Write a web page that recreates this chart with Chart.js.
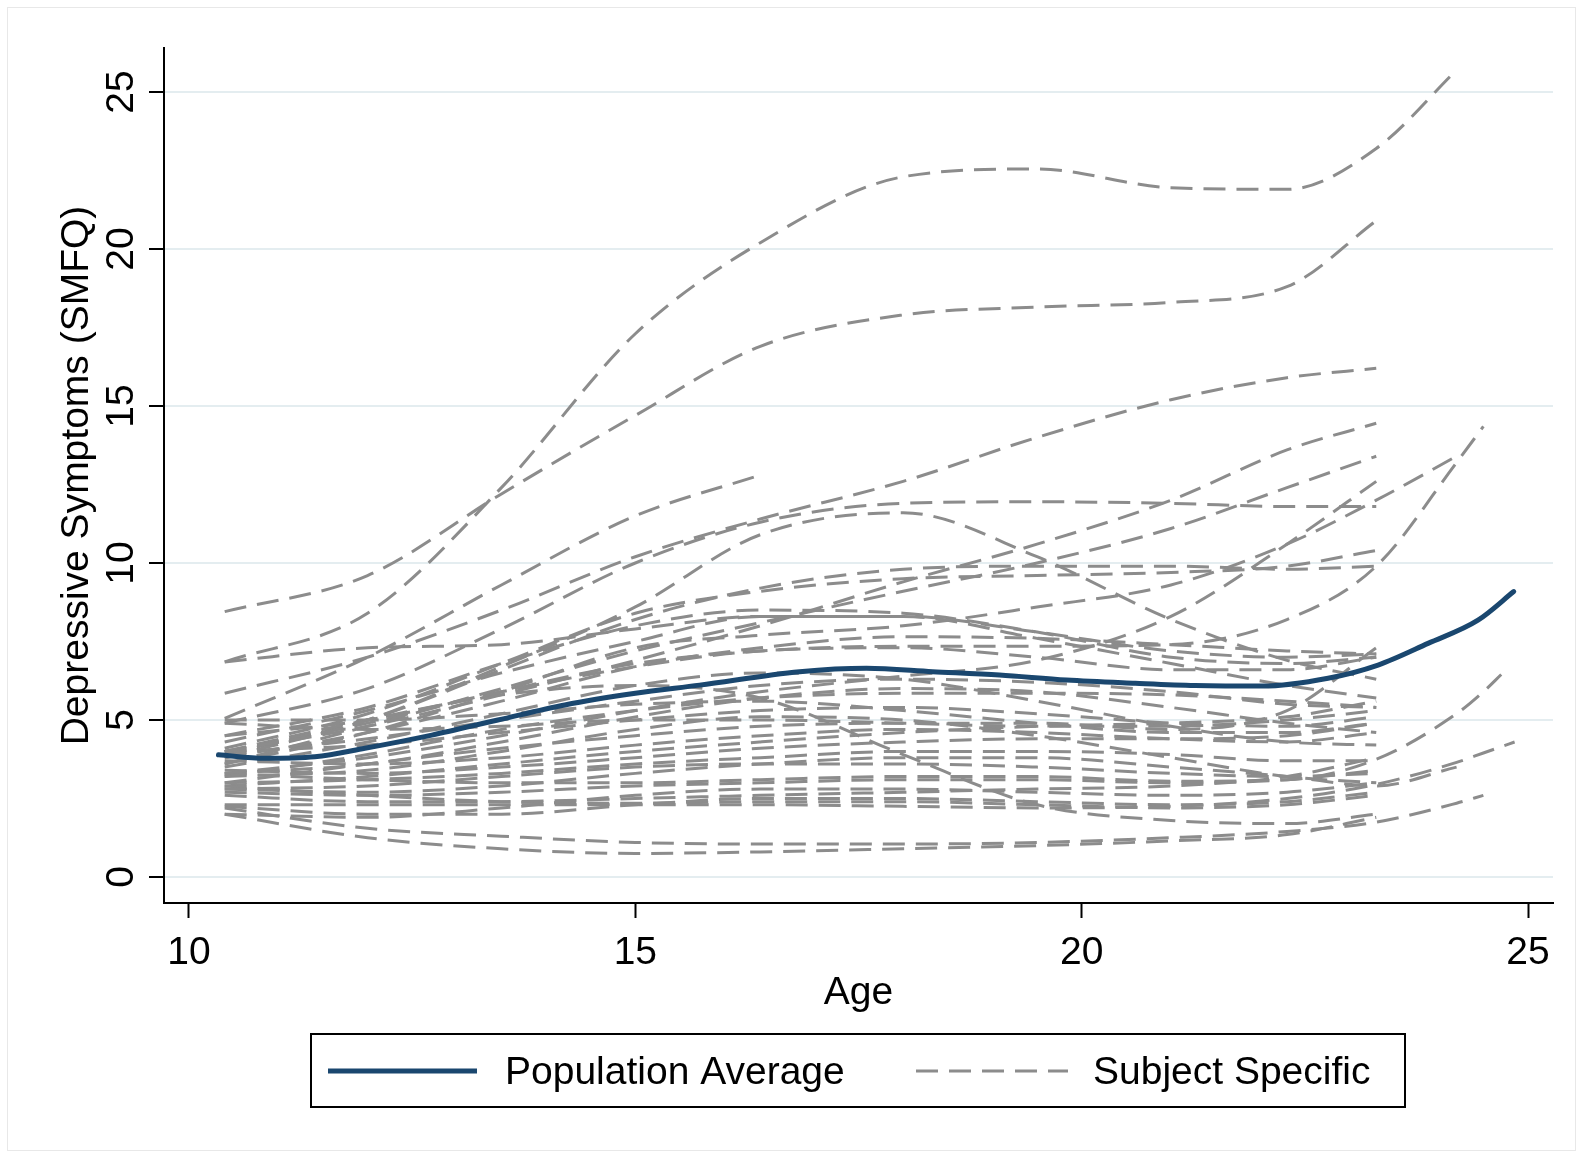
<!DOCTYPE html>
<html>
<head>
<meta charset="utf-8">
<script src="https://cdn.jsdelivr.net/npm/chart.js@4.4.1/dist/chart.umd.min.js"></script>
<style>
html,body{margin:0;padding:0;background:#ffffff;}
#wrap{width:1583px;height:1158px;position:relative;}
</style>
</head>
<body>
<div id="wrap"><canvas id="c" width="1583" height="1158"></canvas></div>
<script>
// ---------- DATA ----------
const xTitle = 'Age';
const yTitle = 'Depressive Symptoms (SMFQ)';
const legendLabels = ['Population Average', 'Subject Specific'];
const xTicks = [10, 15, 20, 25];
const yTicks = [0, 5, 10, 15, 20, 25];

// Population average curve
const popAges   = [10.33, 10.85, 11.41, 11.97, 12.72, 13.46, 14.21, 15.0, 15.72, 16.84, 17.59, 18.33, 19.08, 19.83, 20.6, 21.27, 22.02, 22.76, 23.32, 23.88, 24.44, 24.84];
const popValues = [3.89, 3.78, 3.83, 4.10, 4.52, 5.00, 5.48, 5.85, 6.11, 6.54, 6.65, 6.54, 6.43, 6.27, 6.17, 6.10, 6.08, 6.33, 6.75, 7.44, 8.18, 9.09];

// Subject-specific curves, read at these ages (null = outside the subject's range)
const ages = [10.4, 12, 13.5, 15, 16.4, 18, 19.5, 21, 22.3, 23.3, 24.2, 24.5, 24.7, 24.85];
const n = null;
const s01 = [6.85, 8.4, 12.4, 17.3, 20.2, 22.3, 22.55, 21.95, 21.9, 23.2, 25.7, n, n, n];
const s02 = [8.45, 9.6, 12.2, 14.7, 16.9, 17.9, 18.15, 18.3, 18.8, 20.9, n, n, n, n];
const s03 = [5.05, 7.0, 9.3, 11.5, 12.8, n, n, n, n, n, n, n, n, n];
const s04 = [5.85, 7.0, 8.5, 10.2, 11.4, 12.6, 14.0, 15.2, 15.9, 16.2, n, n, n, n];
const s05 = [4.0, 4.8, 5.8, 6.9, 8.0, 9.4, 10.6, 12.0, 13.6, 14.45, n, n, n, n];
const s06 = [4.9, 6.0, 7.9, 10.0, 11.3, 11.9, 11.95, 11.9, 11.8, 11.8, n, n, n, n];
const s07 = [3.8, 5.0, 6.7, 8.6, 10.9, 11.6, 10.2, 8.2, 6.9, 6.3, n, n, n, n];
const s08 = [3.3, 3.8, 4.5, 5.3, 5.9, 6.4, 6.9, 8.3, 10.6, 12.6, n, n, n, n];
const s09 = [3.6, 4.8, 6.0, 7.2, 8.1, 9.1, 10.0, 11.1, 12.4, 13.4, n, n, n, n];
const s10 = [4.0, 4.9, 5.9, 6.8, 7.2, 7.35, 7.35, 7.4, 8.2, 9.9, 13.2, 14.35, n, n];
const s11 = [3.6, 4.6, 5.9, 7.3, 7.7, 8.0, 8.6, 9.3, 10.6, 12.0, 13.4, n, n, n];
const s12 = [3.0, 3.6, 4.1, 4.5, 4.8, 4.9, 4.9, 4.7, 5.3, 7.3, n, n, n, n];
const s13 = [3.3, 3.1, 3.0, 3.0, 3.1, 3.2, 3.2, 3.05, 3.1, 3.75, 5.2, 5.9, 6.45, n];
const s14 = [2.3, 2.3, 2.3, 2.3, 2.3, 2.25, 2.2, 2.25, 2.5, 2.95, 3.65, 3.95, 4.15, 4.3];
const s15 = [2.2, 1.55, 1.3, 1.1, 1.05, 1.05, 1.1, 1.25, 1.45, 1.75, 2.35, 2.6, n, n];
const s16 = [2.0, 1.25, 0.9, 0.75, 0.8, 0.9, 1.0, 1.15, 1.35, 1.9, n, n, n, n];
const s17 = [4.3, 5.3, 6.5, 7.5, 8.3, 8.3, 7.6, 6.8, 6.1, 5.7, n, n, n, n];
const s18 = [3.8, 4.6, 5.6, 6.7, 7.3, 7.65, 7.6, 7.4, 7.2, 7.1, n, n, n, n];
const s19 = [3.2, 3.9, 4.7, 5.3, 5.7, 5.85, 5.85, 5.8, 5.6, 5.4, n, n, n, n];
const s20 = [4.0, 5.0, 5.8, 6.1, 5.7, 3.9, 2.3, 1.8, 1.7, 2.0, n, n, n, n];
const s21 = [5.0, 5.0, 5.2, 5.5, 5.6, 5.3, 4.9, 4.6, 4.6, 4.9, n, n, n, n];
const s22 = [4.9, 4.7, 4.8, 5.0, 5.0, 4.9, 4.8, 4.8, 5.0, 5.3, n, n, n, n];
const s23 = [4.0, 4.2, 4.6, 5.0, 5.3, 5.4, 5.2, 4.9, 4.8, 5.1, n, n, n, n];
const s24 = [3.7, 3.6, 3.8, 4.2, 4.5, 4.7, 4.6, 4.4, 4.3, 4.6, n, n, n, n];
const s25 = [3.4, 3.3, 3.5, 3.8, 4.1, 4.3, 4.4, 4.4, 4.5, 4.9, n, n, n, n];
const s26 = [3.0, 3.1, 3.3, 3.6, 3.8, 4.0, 4.0, 3.9, 3.7, 3.7, n, n, n, n];
const s27 = [2.8, 2.9, 3.2, 3.5, 3.6, 3.6, 3.5, 3.3, 3.2, 3.3, n, n, n, n];
const s28 = [2.7, 2.6, 2.7, 2.9, 3.0, 3.1, 3.1, 3.0, 3.1, 3.4, n, n, n, n];
const s29 = [2.6, 2.4, 2.4, 2.5, 2.6, 2.7, 2.8, 2.9, 3.2, 3.8, n, n, n, n];
const s30 = [2.25, 2.0, 2.0, 2.3, 2.5, 2.5, 2.4, 2.3, 2.4, 2.7, n, n, n, n];
const s31 = [2.0, 1.9, 2.2, 2.6, 2.8, 2.8, 2.7, 2.6, 2.7, 3.0, n, n, n, n];
const s32 = [2.9, 2.6, 2.4, 2.35, 2.4, 2.4, 2.3, 2.2, 2.3, 2.6, n, n, n, n];
const s33 = [3.2, 3.4, 4.0, 4.7, 5.1, 5.0, 4.5, 3.8, 3.2, 3.0, n, n, n, n];
const s34 = [3.5, 4.3, 5.2, 6.1, 6.5, 6.3, 5.6, 4.8, 4.3, 4.2, n, n, n, n];
const s35 = [2.8, 2.7, 2.9, 3.3, 3.6, 3.8, 3.8, 3.5, 3.2, 2.9, 3.5, n, n, n];
const s36 = [3.9, 4.4, 5.0, 5.6, 6.1, 6.3, 6.2, 5.9, 5.5, 5.4, n, n, n, n];
const s37 = [4.5, 5.0, 5.9, 6.7, 7.2, 7.3, 7.0, 6.6, 6.6, 7.0, n, n, n, n];
const s38 = [3.3, 3.6, 4.3, 5.1, 5.7, 6.0, 5.9, 5.4, 4.9, 4.6, n, n, n, n];
const s39 = [2.9, 3.2, 3.6, 4.0, 4.3, 4.6, 4.8, 4.9, 5.1, 5.6, n, n, n, n];
const s40 = [4.5, 5.4, 6.8, 8.0, 8.5, 8.4, 7.8, 7.0, 6.8, 7.0, n, n, n, n];
const s41 = [3.9, 5.0, 6.6, 8.2, 9.2, 9.8, 9.9, 9.9, 9.8, 9.9, n, n, n, n];
const s42 = [4.1, 5.2, 6.8, 8.4, 9.1, 9.5, 9.6, 9.7, 9.9, 10.4, n, n, n, n];
const s43 = [6.85, 7.3, 7.4, 7.9, 8.3, 8.3, 7.8, 7.2, 7.0, 7.1, n, n, n, n];
const subjects = [s01, s02, s03, s04, s05, s06, s07, s08, s09, s10, s11, s12, s13, s14, s15,
                  s16, s17, s18, s19, s20, s21, s22, s23, s24, s25, s26, s27, s28, s29, s30,
                  s31, s32, s33, s34, s35, s36, s37, s38, s39, s40, s41, s42, s43];

// ---------- STYLE ----------
const FONT = '"Liberation Sans", Arial, Helvetica, sans-serif';
const popColor = '#1a476f';
const subjColor = '#8c8c8c';
const subjDash = [22, 11];

Chart.defaults.font.family = FONT;
Chart.defaults.color = '#000';

const datasets = [{
  label: legendLabels[0],
  data: popAges.map((a, i) => ({x: a, y: popValues[i]})),
  borderColor: popColor,
  borderWidth: 5,
  pointRadius: 0,
  fill: false,
  cubicInterpolationMode: 'monotone',
  borderCapStyle: 'round'
}];
subjects.forEach((s) => {
  datasets.push({
    label: legendLabels[1],
    data: ages.map((a, i) => ({x: a, y: s[i]})),
    borderColor: subjColor,
    borderWidth: 3,
    borderDash: subjDash,
    pointRadius: 0,
    fill: false,
    spanGaps: false,
    cubicInterpolationMode: 'monotone'
  });
});

const framePlugin = {
  id: 'frame',
  beforeDraw(chart) {
    const ctx = chart.ctx;
    ctx.save();
    ctx.fillStyle = '#ffffff';
    ctx.fillRect(0, 0, chart.width, chart.height);
    ctx.strokeStyle = '#e8e8e8';
    ctx.lineWidth = 1;
    ctx.strokeRect(7.5, 7.5, chart.width - 15, chart.height - 15);
    ctx.restore();
  }
};

const legendPlugin = {
  id: 'boxLegend',
  afterDraw(chart) {
    const ctx = chart.ctx;
    const ds = chart.data.datasets;
    ctx.save();
    ctx.strokeStyle = '#000';
    ctx.lineWidth = 2;
    ctx.strokeRect(311, 1034, 1094, 73);
    const cy = 1071;
    ctx.lineCap = 'butt';
    ctx.strokeStyle = ds[0].borderColor;
    ctx.lineWidth = ds[0].borderWidth;
    ctx.beginPath(); ctx.moveTo(328, cy); ctx.lineTo(477, cy); ctx.stroke();
    ctx.strokeStyle = ds[1].borderColor;
    ctx.lineWidth = ds[1].borderWidth;
    ctx.setLineDash(ds[1].borderDash);
    ctx.beginPath(); ctx.moveTo(916, cy); ctx.lineTo(1068, cy); ctx.stroke();
    ctx.setLineDash([]);
    ctx.fillStyle = '#000';
    ctx.font = '39px ' + FONT;
    ctx.textBaseline = 'middle';
    ctx.textAlign = 'left';
    ctx.fillText(ds[0].label, 505, cy + 2);
    ctx.fillText(ds[1].label, 1093, cy + 2);
    ctx.restore();
  }
};

new Chart(document.getElementById('c'), {
  type: 'line',
  data: {datasets},
  plugins: [framePlugin, legendPlugin],
  options: {
    responsive: false,
    animation: false,
    devicePixelRatio: 1,
    layout: {padding: {left: 0, top: 48, right: 30, bottom: 0}},
    plugins: {legend: {display: false}, tooltip: {enabled: false}},
    scales: {
      x: {
        type: 'linear',
        min: 9.72,
        max: 25.28,
        afterBuildTicks: (s) => { s.ticks = xTicks.map(v => ({value: v})); },
        afterFit: (s) => { s.height = 255; },
        grid: {display: true, drawOnChartArea: false, drawTicks: true, tickLength: 15, tickColor: '#000', tickWidth: 2},
        border: {display: true, color: '#000', width: 2},
        ticks: {color: '#000', font: {size: 39}, padding: 12, maxRotation: 0, minRotation: 0, autoSkip: false},
        title: {display: true, text: xTitle, color: '#000', font: {size: 39}, padding: {top: 0, bottom: 141}}
      },
      y: {
        type: 'linear',
        min: -0.828,
        max: 26.401,
        afterBuildTicks: (s) => { s.ticks = yTicks.map(v => ({value: v})); },
        afterFit: (s) => { s.width = 164; },
        grid: {display: true, color: '#e4edf0', lineWidth: 2, drawTicks: true, tickLength: 15, tickColor: '#000', tickWidth: 2},
        border: {display: true, color: '#000', width: 2},
        ticks: {color: '#000', font: {size: 39}, padding: 5, minRotation: 90, maxRotation: 90, crossAlign: 'center', autoSkip: false},
        title: {display: true, text: yTitle, color: '#000', font: {size: 39}, padding: {top: 54, bottom: 0}}
      }
    }
  }
});
</script>
</body>
</html>
